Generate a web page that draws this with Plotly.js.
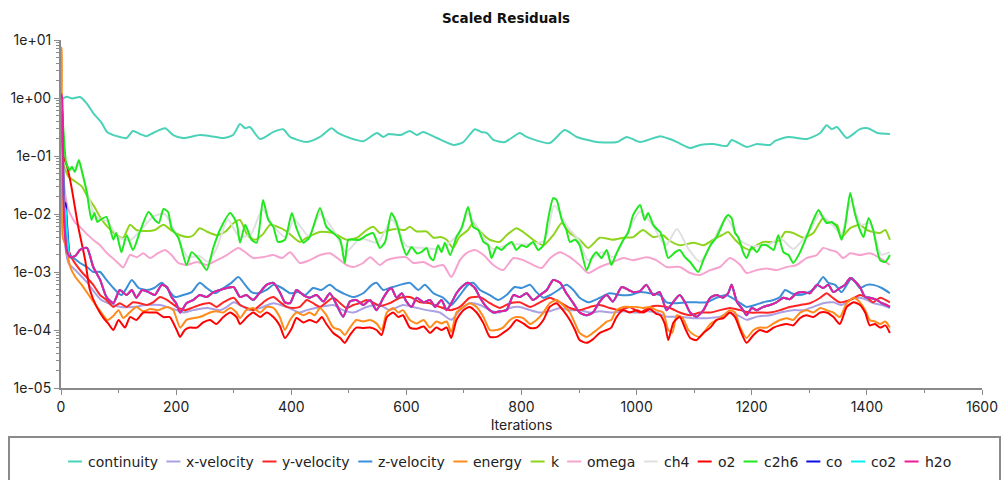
<!DOCTYPE html>
<html>
<head>
<meta charset="utf-8">
<script src="https://cdn.plot.ly/plotly-3.0.1.min.js"></script>
<style>html,body{margin:0;padding:0;background:#fff}#chart{width:1001px;height:480px}</style>
</head>
<body>
<div id="chart"></div>
<script>
// Each series: [iteration, scaled residual] pairs
const seriesNames = ["continuity","x-velocity","y-velocity","z-velocity","energy","k","omega","ch4","o2","c2h6","co","co2","h2o"];
const yTickVals = [1e-5,1e-4,1e-3,1e-2,1e-1,1,10];
const yTickText = ["1e-05","1e-04","1e-03","1e-02","1e-01","1e+00","1e+01"];

const continuity = [[0,0.92],[5,1.0],[10,1.05],[20,0.98],[33,1.04],[45,0.8],[56,0.55],[70,0.38],[80,0.26],[97,0.22],[114,0.204],[125,0.27],[137,0.24],[149,0.22],[160,0.249],[181,0.30],[195,0.23],[212,0.204],[241,0.23],[260,0.22],[282,0.204],[299,0.23],[311,0.356],[320,0.30],[328,0.316],[346,0.196],[369,0.26],[386,0.29],[398,0.213],[427,0.174],[450,0.213],[470,0.30],[481,0.25],[502,0.204],[525,0.18],[549,0.249],[560,0.213],[569,0.24],[590,0.23],[606,0.27],[618,0.23],[629,0.26],[653,0.204],[682,0.155],[699,0.174],[719,0.29],[730,0.26],[740,0.249],[751,0.189],[771,0.174],[797,0.249],[809,0.213],[849,0.167],[875,0.28],[896,0.213],[931,0.174],[966,0.174],[983,0.213],[1006,0.174],[1041,0.22],[1055,0.2],[1070,0.174],[1093,0.137],[1110,0.155],[1133,0.161],[1157,0.149],[1165,0.189],[1191,0.143],[1209,0.161],[1232,0.155],[1240,0.18],[1263,0.213],[1296,0.196],[1319,0.249],[1330,0.34],[1339,0.29],[1348,0.316],[1365,0.204],[1388,0.29],[1402,0.30],[1418,0.25],[1440,0.24]];

const xVelocity = [[0,1.0],[3,0.05],[7,0.0032],[13,0.00143],[25,0.00108],[46,0.00065],[58,0.00045],[70,0.00033],[91,0.00027],[104,0.00025],[125,0.00025],[148,0.00027],[172,0.00027],[190,0.00024],[201,0.00022],[212,0.0002],[230,0.00022],[253,0.00024],[276,0.00022],[288,0.00025],[300,0.0003],[311,0.00027],[328,0.00022],[346,0.00024],[369,0.00029],[392,0.00025],[415,0.0002],[427,0.00022],[450,0.00025],[473,0.00027],[490,0.00022],[508,0.0002],[531,0.00025],[554,0.00027],[571,0.00022],[594,0.00027],[612,0.00025],[635,0.00022],[658,0.0002],[678,0.00015],[693,0.00022],[710,0.00029],[728,0.00027],[745,0.00022],[762,0.0002],[780,0.00024],[797,0.00025],[815,0.00022],[832,0.0002],[849,0.00021],[867,0.00024],[884,0.00022],[901,0.00022],[919,0.0002],[936,0.00021],[959,0.0002],[977,0.00021],[1000,0.0002],[1017,0.00021],[1034,0.0002],[1052,0.00017],[1075,0.00017],[1099,0.00016],[1122,0.00016],[1145,0.00017],[1162,0.0002],[1180,0.00017],[1191,0.00015],[1209,0.00017],[1232,0.00018],[1249,0.0002],[1272,0.00022],[1290,0.00022],[1307,0.00025],[1324,0.00029],[1342,0.0003],[1356,0.00027],[1371,0.00033],[1388,0.00036],[1400,0.00033],[1411,0.00029],[1426,0.00027],[1440,0.00024]];

const yVelocity = [[0,1.0],[3,0.1],[6,0.01],[10,0.003],[18,0.0018],[27,0.0013],[36,0.001],[45,0.0008],[56,0.0006],[68,0.0004],[79,0.00033],[91,0.00025],[102,0.00029],[114,0.00025],[125,0.0003],[137,0.00029],[149,0.00027],[160,0.0003],[172,0.00037],[184,0.00033],[192,0.00029],[204,0.00024],[215,0.00022],[227,0.00024],[241,0.00027],[259,0.00029],[270,0.00025],[282,0.0003],[300,0.00036],[311,0.00027],[323,0.00024],[334,0.00022],[346,0.00027],[357,0.00033],[369,0.00037],[381,0.0003],[392,0.00025],[404,0.00024],[415,0.00025],[427,0.00033],[438,0.00029],[450,0.00025],[461,0.0003],[473,0.00036],[485,0.00029],[496,0.00024],[508,0.00027],[519,0.00029],[531,0.00033],[542,0.0003],[554,0.00026],[571,0.00029],[589,0.00036],[606,0.00037],[624,0.0003],[641,0.00029],[658,0.00025],[676,0.00022],[693,0.00025],[710,0.00036],[728,0.00037],[745,0.00029],[762,0.00024],[780,0.00029],[797,0.0003],[815,0.00025],[832,0.0003],[849,0.00036],[867,0.0003],[884,0.00024],[901,0.00022],[919,0.00025],[936,0.00027],[953,0.00024],[971,0.00022],[988,0.00025],[1006,0.0002],[1023,0.00025],[1041,0.00026],[1058,0.00024],[1075,0.0002],[1093,0.00018],[1110,0.0002],[1128,0.0002],[1145,0.00022],[1162,0.00024],[1180,0.00022],[1197,0.0002],[1214,0.0002],[1232,0.0002],[1249,0.00022],[1266,0.00025],[1284,0.00027],[1301,0.00029],[1319,0.00036],[1330,0.00043],[1339,0.00037],[1353,0.0003],[1371,0.00033],[1388,0.0004],[1400,0.00036],[1411,0.0003],[1423,0.00036],[1440,0.0003]];

const zVelocity = [[0,1.0],[3,0.05],[7,0.0053],[10,0.0021],[20,0.0018],[33,0.00143],[46,0.0012],[56,0.001],[68,0.001],[79,0.00073],[91,0.00053],[105,0.0004],[114,0.00053],[123,0.00073],[135,0.00053],[149,0.00049],[162,0.00053],[175,0.00065],[184,0.00053],[198,0.00037],[212,0.0004],[227,0.00045],[241,0.00065],[253,0.00053],[268,0.00043],[282,0.00053],[296,0.00065],[308,0.00082],[320,0.0006],[331,0.00045],[343,0.00043],[357,0.00049],[369,0.0006],[384,0.00053],[398,0.00043],[412,0.00045],[424,0.0004],[438,0.00053],[452,0.00049],[467,0.0006],[479,0.00049],[490,0.00043],[508,0.00037],[525,0.00043],[540,0.0006],[548,0.00065],[560,0.00049],[571,0.00053],[589,0.0006],[606,0.00065],[621,0.00049],[632,0.0006],[647,0.00043],[664,0.00036],[678,0.00027],[693,0.0004],[707,0.0006],[716,0.00065],[728,0.00049],[745,0.0004],[760,0.00033],[774,0.0004],[788,0.00055],[800,0.00053],[815,0.0006],[826,0.00045],[838,0.00036],[850,0.0004],[864,0.00049],[878,0.0006],[890,0.00049],[901,0.00036],[916,0.0003],[936,0.00036],[953,0.00043],[971,0.0004],[988,0.0004],[1006,0.00045],[1023,0.00043],[1041,0.0004],[1052,0.0003],[1070,0.00029],[1087,0.0003],[1104,0.0003],[1122,0.0003],[1139,0.00036],[1156,0.0004],[1165,0.00036],[1180,0.00029],[1191,0.00025],[1206,0.00027],[1220,0.0003],[1238,0.00033],[1249,0.00037],[1258,0.00049],[1269,0.00043],[1281,0.0004],[1295,0.00043],[1310,0.00053],[1324,0.00082],[1333,0.00065],[1345,0.0006],[1356,0.00045],[1374,0.00079],[1388,0.00053],[1400,0.0006],[1411,0.0006],[1426,0.00053],[1440,0.00043]];

const energy = [[0,7.6],[1,7.0],[3,0.004],[9,0.0027],[16,0.00122],[25,0.00082],[36,0.0006],[46,0.00043],[58,0.00029],[70,0.0002],[81,0.000149],[92,0.00018],[100,0.00022],[108,0.000161],[119,0.0002],[131,0.00025],[143,0.00021],[155,0.00023],[169,0.00022],[184,0.00025],[195,0.00022],[207,0.00011],[218,0.000149],[230,0.00016],[241,0.000167],[259,0.0002],[270,0.00021],[282,0.0002],[294,0.00024],[305,0.0002],[311,0.000161],[322,0.00022],[334,0.00024],[346,0.0002],[357,0.00025],[369,0.00024],[380,0.000167],[389,0.0001],[398,0.000149],[409,0.0002],[421,0.00018],[432,0.0002],[441,0.00018],[450,0.00024],[461,0.00018],[473,0.00011],[485,0.0001],[493,0.000082],[502,0.00011],[513,0.000149],[525,0.00014],[537,0.000149],[548,0.00013],[557,0.0001],[566,0.0002],[577,0.00024],[586,0.0002],[594,0.00022],[606,0.000149],[618,0.00013],[630,0.000149],[641,0.00011],[652,0.00014],[661,0.00013],[670,0.00014],[678,0.000092],[687,0.0002],[699,0.00025],[710,0.00029],[722,0.00025],[734,0.000167],[745,0.0001],[757,0.0001],[768,0.00011],[780,0.000149],[791,0.000167],[803,0.00016],[815,0.000127],[826,0.000149],[838,0.0002],[849,0.00029],[861,0.00033],[872,0.00027],[884,0.0002],[893,0.00013],[901,0.000089],[913,0.000076],[924,0.000089],[936,0.00011],[948,0.00014],[956,0.000149],[965,0.00022],[977,0.00025],[988,0.00025],[1000,0.00025],[1011,0.00024],[1023,0.00025],[1034,0.00022],[1046,0.0002],[1055,0.0001],[1062,0.00009],[1070,0.00018],[1080,0.00016],[1090,0.0001],[1100,0.000082],[1110,0.000076],[1120,0.0001],[1128,0.000127],[1140,0.00015],[1151,0.00018],[1162,0.00022],[1171,0.0002],[1180,0.00011],[1191,0.000073],[1203,0.0001],[1214,0.00011],[1226,0.00011],[1238,0.00013],[1249,0.000149],[1261,0.00016],[1272,0.000149],[1284,0.0002],[1296,0.00022],[1307,0.0002],[1319,0.00024],[1330,0.00022],[1342,0.0002],[1353,0.000167],[1365,0.00029],[1377,0.00036],[1388,0.0003],[1397,0.00022],[1405,0.000149],[1414,0.00014],[1423,0.000127],[1432,0.00014],[1440,0.00011]];

const kTurb = [[0,1.0],[3,0.3],[6,0.07],[13,0.044],[22,0.038],[36,0.03],[46,0.02],[58,0.0133],[69,0.0085],[81,0.006],[97,0.0043],[108,0.0039],[120,0.0065],[131,0.0053],[150,0.0051],[163,0.0053],[178,0.0065],[193,0.0051],[207,0.0043],[221,0.004],[230,0.0043],[241,0.0057],[253,0.005],[271,0.0043],[286,0.005],[300,0.007],[311,0.0079],[324,0.0043],[337,0.0036],[351,0.0045],[363,0.0065],[377,0.006],[392,0.005],[415,0.0033],[427,0.0039],[450,0.0049],[473,0.0047],[496,0.0036],[514,0.0039],[531,0.0053],[543,0.006],[554,0.0047],[571,0.0053],[583,0.0055],[597,0.0053],[606,0.006],[618,0.005],[635,0.005],[647,0.0039],[659,0.004],[670,0.0036],[681,0.0026],[692,0.004],[707,0.0053],[716,0.007],[728,0.005],[745,0.0036],[762,0.0033],[774,0.0043],[791,0.0057],[803,0.0049],[820,0.0036],[838,0.0029],[855,0.0043],[870,0.007],[884,0.0047],[901,0.0036],[916,0.0026],[936,0.0039],[959,0.0036],[977,0.0039],[994,0.004],[1011,0.0053],[1029,0.004],[1046,0.0043],[1055,0.0036],[1075,0.0029],[1099,0.0032],[1116,0.0029],[1133,0.0036],[1148,0.0043],[1159,0.0049],[1171,0.0036],[1185,0.0027],[1197,0.0024],[1209,0.0029],[1220,0.0033],[1238,0.0033],[1249,0.0036],[1258,0.0049],[1272,0.0047],[1290,0.0039],[1307,0.0047],[1324,0.0085],[1336,0.007],[1348,0.0065],[1356,0.004],[1371,0.0057],[1388,0.0065],[1400,0.0053],[1411,0.0049],[1423,0.0047],[1432,0.0053],[1440,0.0036]];

const omega = [[0,0.9],[4,0.05],[8,0.02],[13,0.0117],[25,0.007],[33,0.006],[45,0.0045],[59,0.0034],[68,0.0029],[80,0.0021],[91,0.0017],[100,0.0014],[108,0.0012],[120,0.00196],[132,0.0018],[143,0.0021],[155,0.00174],[168,0.0021],[181,0.0024],[192,0.00196],[204,0.00143],[218,0.00132],[236,0.00149],[253,0.00132],[271,0.0016],[288,0.00196],[308,0.0026],[320,0.0022],[334,0.00174],[351,0.0018],[369,0.00196],[384,0.00174],[398,0.0022],[415,0.00143],[432,0.0016],[450,0.00196],[467,0.0021],[485,0.0016],[496,0.00132],[508,0.00122],[525,0.00143],[537,0.0018],[554,0.00132],[566,0.0016],[589,0.0018],[600,0.0018],[612,0.00143],[630,0.00149],[647,0.00122],[664,0.00132],[678,0.00082],[693,0.0016],[704,0.0021],[719,0.0024],[734,0.00196],[751,0.00132],[768,0.00108],[786,0.00174],[803,0.0016],[820,0.00132],[835,0.00117],[850,0.00174],[867,0.0022],[884,0.0018],[901,0.00132],[916,0.00096],[936,0.00122],[959,0.00149],[977,0.00174],[994,0.0016],[1017,0.0018],[1034,0.0016],[1052,0.00122],[1075,0.00122],[1093,0.00096],[1110,0.00089],[1128,0.00108],[1145,0.00122],[1162,0.00174],[1180,0.00132],[1191,0.00096],[1209,0.00108],[1226,0.00115],[1243,0.00108],[1261,0.00122],[1278,0.00132],[1295,0.00174],[1313,0.00196],[1324,0.0026],[1336,0.0024],[1348,0.0022],[1359,0.00174],[1371,0.0021],[1388,0.00196],[1405,0.0021],[1423,0.00174],[1440,0.00132]];

const ch4 = [[0,1.0],[4,0.15],[10,0.06],[20,0.06],[31,0.07],[45,0.025],[60,0.009],[80,0.0075],[100,0.004],[120,0.0035],[140,0.0055],[160,0.009],[180,0.01],[200,0.0045],[220,0.0018],[240,0.0019],[255,0.0015],[270,0.0025],[290,0.008],[310,0.004],[330,0.0045],[350,0.012],[370,0.006],[390,0.004],[405,0.008],[430,0.0042],[450,0.01],[475,0.005],[495,0.0022],[520,0.0038],[550,0.0032],[575,0.008],[600,0.0028],[630,0.0026],[660,0.0025],[690,0.0045],[707,0.01],[730,0.0045],[750,0.0025],[780,0.003],[810,0.003],[840,0.0035],[857,0.014],[880,0.006],[900,0.0035],[915,0.0016],[940,0.0022],[960,0.0018],[985,0.005],[1006,0.011],[1030,0.006],[1050,0.0028],[1070,0.0055],[1090,0.0025],[1110,0.0015],[1130,0.003],[1156,0.0085],[1180,0.0035],[1200,0.0028],[1230,0.003],[1250,0.0038],[1272,0.0025],[1300,0.005],[1318,0.01],[1340,0.0065],[1356,0.0045],[1372,0.017],[1390,0.0065],[1405,0.007],[1425,0.002],[1440,0.0022]];

const o2 = [[0,1.0],[2,0.5],[4,0.1],[10,0.07],[18,0.03],[30,0.006],[42,0.0016],[50,0.0005],[62,0.00025],[74,0.00016],[82,0.00013],[91,0.0001],[100,0.000149],[111,0.00011],[120,0.000167],[131,0.000149],[143,0.0002],[155,0.0002],[166,0.0002],[178,0.000167],[189,0.000167],[201,0.0001],[207,0.000076],[215,0.0001],[224,0.00011],[236,0.00011],[247,0.000135],[259,0.000149],[270,0.000127],[282,0.000167],[294,0.0002],[305,0.000167],[311,0.000127],[323,0.000167],[334,0.0002],[346,0.000167],[357,0.0002],[369,0.000167],[380,0.00012],[389,0.000073],[401,0.000108],[409,0.000161],[421,0.000135],[432,0.000149],[444,0.000135],[453,0.000167],[461,0.000127],[473,0.000089],[485,0.000073],[493,0.00006],[502,0.000082],[513,0.00011],[525,0.000108],[537,0.00011],[548,0.0001],[557,0.000082],[566,0.000167],[577,0.0002],[586,0.000167],[594,0.00018],[606,0.00011],[618,0.000105],[630,0.000115],[641,0.000089],[652,0.00011],[661,0.0001],[670,0.00011],[678,0.000073],[687,0.000149],[699,0.00022],[710,0.00025],[722,0.0002],[734,0.00013],[745,0.000076],[757,0.000076],[768,0.000089],[780,0.00011],[791,0.000149],[803,0.00013],[815,0.000108],[826,0.00011],[838,0.000149],[849,0.00025],[861,0.00029],[872,0.00022],[884,0.000149],[893,0.0001],[901,0.000067],[913,0.00006],[924,0.000069],[936,0.000089],[948,0.0001],[956,0.00011],[965,0.000167],[977,0.00022],[988,0.0002],[1000,0.00022],[1011,0.0002],[1023,0.00023],[1034,0.00019],[1041,0.00018],[1049,0.000127],[1055,0.000067],[1064,0.000135],[1075,0.000167],[1084,0.000108],[1093,0.000073],[1104,0.000067],[1116,0.000089],[1128,0.00011],[1139,0.000149],[1151,0.000161],[1162,0.0002],[1171,0.000167],[1180,0.0001],[1191,0.00006],[1203,0.000082],[1214,0.0001],[1226,0.000092],[1238,0.00011],[1249,0.00012],[1261,0.000127],[1272,0.00012],[1284,0.000161],[1295,0.00018],[1307,0.000167],[1319,0.0002],[1330,0.0002],[1342,0.000167],[1353,0.000127],[1365,0.00025],[1377,0.0003],[1388,0.00027],[1397,0.0002],[1405,0.00012],[1414,0.000127],[1423,0.00011],[1432,0.00012],[1440,0.000089]];

const c2h6 = [[0,1.0],[4,0.3],[9,0.076],[15,0.057],[19,0.065],[24,0.053],[31,0.085],[38,0.047],[45,0.023],[53,0.0079],[58,0.0104],[63,0.0073],[68,0.0079],[79,0.0089],[91,0.0036],[96,0.0047],[105,0.0022],[114,0.0043],[125,0.0024],[137,0.0049],[152,0.0108],[163,0.0079],[170,0.007],[178,0.0122],[186,0.0108],[192,0.0057],[204,0.0039],[218,0.00132],[227,0.0022],[241,0.0016],[253,0.00108],[265,0.0027],[276,0.0053],[294,0.0104],[305,0.007],[311,0.0032],[320,0.0065],[331,0.0036],[340,0.0032],[351,0.0174],[360,0.0079],[369,0.006],[377,0.0033],[389,0.0036],[401,0.0104],[409,0.0057],[421,0.0032],[432,0.004],[450,0.0127],[461,0.006],[473,0.0047],[485,0.0036],[493,0.00143],[499,0.0036],[508,0.0036],[519,0.0036],[531,0.0043],[542,0.0047],[554,0.0026],[563,0.0033],[574,0.0104],[583,0.007],[592,0.0032],[600,0.00196],[609,0.0027],[618,0.0021],[626,0.0022],[635,0.0026],[641,0.0018],[647,0.0016],[655,0.0029],[661,0.0022],[667,0.0032],[676,0.00196],[687,0.004],[696,0.0057],[707,0.0132],[716,0.006],[725,0.0053],[734,0.0033],[742,0.0029],[748,0.00174],[757,0.0027],[765,0.0024],[774,0.0029],[783,0.0033],[791,0.0024],[800,0.0029],[809,0.0027],[820,0.0033],[829,0.0024],[838,0.0029],[846,0.0079],[855,0.0188],[861,0.0174],[870,0.0079],[878,0.0053],[884,0.0033],[893,0.0036],[901,0.0029],[913,0.00108],[922,0.00174],[930,0.0022],[939,0.00174],[948,0.0024],[956,0.00132],[965,0.0021],[977,0.0036],[985,0.0047],[994,0.0096],[1006,0.0143],[1014,0.0079],[1020,0.0104],[1029,0.0065],[1037,0.0053],[1041,0.0049],[1047,0.0033],[1055,0.00174],[1067,0.0022],[1075,0.0024],[1084,0.0018],[1093,0.00149],[1107,0.001],[1116,0.0016],[1128,0.0029],[1139,0.004],[1154,0.0085],[1159,0.0096],[1165,0.0085],[1171,0.0047],[1177,0.0039],[1185,0.0022],[1191,0.00174],[1200,0.0027],[1209,0.0022],[1217,0.0029],[1226,0.0029],[1238,0.0024],[1246,0.0043],[1255,0.0022],[1264,0.00196],[1272,0.00143],[1284,0.0022],[1295,0.004],[1307,0.0079],[1316,0.0117],[1324,0.0085],[1330,0.007],[1339,0.0073],[1348,0.006],[1356,0.0036],[1362,0.006],[1371,0.023],[1379,0.0104],[1388,0.0053],[1394,0.004],[1403,0.0085],[1411,0.0053],[1423,0.0016],[1432,0.00149],[1440,0.00196]];

const h2o = [[0,1.2],[2,1.0],[4,0.03],[6,0.006],[10,0.0024],[16,0.0018],[25,0.0019],[33,0.0024],[45,0.0026],[56,0.00122],[68,0.00073],[79,0.00037],[91,0.00029],[102,0.00049],[114,0.0004],[123,0.00049],[131,0.00036],[141,0.00049],[152,0.00045],[163,0.0004],[175,0.0006],[184,0.00055],[192,0.00037],[200,0.00029],[207,0.0002],[218,0.00029],[230,0.00033],[241,0.0004],[253,0.00037],[265,0.00045],[276,0.00049],[288,0.00053],[300,0.00055],[311,0.00037],[322,0.0004],[334,0.00033],[346,0.00045],[357,0.0006],[369,0.00065],[381,0.00043],[389,0.0003],[398,0.00029],[409,0.00049],[421,0.0004],[432,0.00036],[444,0.0004],[456,0.00031],[467,0.00043],[479,0.00027],[490,0.00017],[502,0.00031],[513,0.00033],[525,0.00027],[537,0.00033],[548,0.00022],[560,0.00036],[569,0.00049],[574,0.00053],[583,0.00036],[592,0.00043],[600,0.00031],[609,0.00025],[618,0.00036],[630,0.0003],[641,0.00033],[650,0.00025],[661,0.00033],[670,0.00022],[678,0.00029],[687,0.00043],[696,0.00055],[707,0.00065],[719,0.00053],[728,0.00036],[739,0.00025],[751,0.0002],[762,0.00021],[774,0.00022],[786,0.0004],[797,0.00037],[809,0.00043],[820,0.00033],[832,0.0004],[844,0.00049],[855,0.00073],[867,0.00065],[878,0.00043],[890,0.00029],[901,0.0002],[913,0.00018],[924,0.0002],[936,0.00031],[948,0.0004],[959,0.00031],[974,0.00055],[986,0.00049],[994,0.00045],[1006,0.00047],[1017,0.0006],[1029,0.0004],[1040,0.00045],[1052,0.00022],[1063,0.0003],[1075,0.0004],[1084,0.0003],[1093,0.0002],[1104,0.00017],[1116,0.00022],[1128,0.00036],[1139,0.0004],[1150,0.00036],[1159,0.00043],[1165,0.0006],[1174,0.00031],[1185,0.00022],[1191,0.00018],[1200,0.00024],[1209,0.00022],[1220,0.00025],[1232,0.00027],[1243,0.0003],[1255,0.00036],[1266,0.00034],[1278,0.00043],[1290,0.00045],[1301,0.00043],[1313,0.0006],[1324,0.00053],[1333,0.0006],[1342,0.00045],[1353,0.00053],[1362,0.0006],[1371,0.00079],[1379,0.00069],[1388,0.00055],[1397,0.00037],[1405,0.00036],[1417,0.00033],[1426,0.00029],[1434,0.00027],[1440,0.00025]];

// co and co2: visible only at the start, afterwards hidden under h2o
const coStart = [[0,1.0],[2,0.6],[4,0.05],[6,0.016],[8,0.015],[10,0.008],[13,0.003]];
const co2Start = [[0,1.0],[2,0.6],[4,0.04],[6,0.013],[8,0.012],[10,0.006],[13,0.0025]];

const colors = ["#4ad2b8","#aaa0e4","#ff2424","#3b8fd8","#ff8c1a","#8fd41c","#f6a4cf","#e0e0e0","#ff0000","#1fe81f","#0b0be6","#00f0f0","#ee1a9a"];

function tail(pairs, after){ return pairs.filter(p => p[0] > after); }
const coFull = coStart.concat(tail(h2o, 13));
const co2Full = co2Start.concat(tail(h2o, 13));
const seriesData = [continuity,xVelocity,yVelocity,zVelocity,energy,kTurb,omega,ch4,o2,c2h6,coFull,co2Full,h2o];

const traces = seriesData.map((pts,i) => ({
  type: "scatter", mode: "lines", name: seriesNames[i], showlegend: false,
  x: pts.map(p => p[0]), y: pts.map(p => p[1]),
  line: {color: colors[i], width: 2, shape: "spline", smoothing: 0.6}
}));

// ---- page geometry ----
const W = 1001, H = 480, M = {l: 61, r: 19, t: 40, b: 92};
const plotW = W - M.l - M.r, plotH = H - M.t - M.b;
const pxToPaperX = px => (px - M.l) / plotW;
const pxToPaperY = py => (H - M.b - py) / plotH;

// ---- legend row (one line, centred), built from seriesNames / colors ----
const legendFontSize = 14, legendFamily = "DejaVu Sans";
const ctx = document.createElement("canvas").getContext("2d");
ctx.font = legendFontSize + "px '" + legendFamily + "'";
const textW = seriesNames.map(n => ctx.measureText(n).width);
const SAMPLE = 14, GAP_TEXT = 6, GAP_ITEM = 8.4, LEGEND_CX = 509.5, LEGEND_CY = 461.5;
const totalW = textW.reduce((a, w) => a + SAMPLE + GAP_TEXT + w, 0) + GAP_ITEM * (seriesNames.length - 1);
let cursor = LEGEND_CX - totalW / 2;
const legendShapes = [], legendAnns = [];
seriesNames.forEach((name, i) => {
  legendShapes.push({type: "line", xref: "paper", yref: "paper",
    x0: pxToPaperX(cursor), x1: pxToPaperX(cursor + SAMPLE),
    y0: pxToPaperY(LEGEND_CY), y1: pxToPaperY(LEGEND_CY),
    line: {color: colors[i], width: 2}});
  legendAnns.push({text: name, xref: "paper", yref: "paper", showarrow: false,
    x: pxToPaperX(cursor + SAMPLE + GAP_TEXT - 2), xanchor: "left",
    y: pxToPaperY(LEGEND_CY), yanchor: "middle",
    font: {family: "'" + legendFamily + "', sans-serif", size: legendFontSize, color: "#222"}});
  cursor += SAMPLE + GAP_TEXT + textW[i] + GAP_ITEM;
});

const tickFont = {family: "Inter, 'DejaVu Sans', sans-serif", size: 14, color: "#222"};
const layout = {
  width: W, height: H, margin: M,
  paper_bgcolor: "#fff", plot_bgcolor: "#fff", showlegend: false,
  title: {text: "<b>Scaled Residuals</b>", font: {family: "'DejaVu Sans', sans-serif", size: 13.5, color: "#111"},
          x: 0.5055, xanchor: "center", y: 0.962, yanchor: "middle"},
  xaxis: {range: [0, 1600], dtick: 200, tick0: 0, showgrid: false, zeroline: false,
          showline: true, linecolor: "#8a8a8a", linewidth: 2,
          ticks: "outside", ticklen: 5, tickcolor: "#8a8a8a", tickwidth: 1,
          minor: {ticks: "outside", dtick: 100, ticklen: 3, tickcolor: "#8a8a8a", showgrid: false},
          tickfont: tickFont, automargin: false,
          title: {text: "Iterations", font: tickFont, standoff: 6}},
  yaxis: {type: "log", range: [-5, 1], tickmode: "array", tickvals: yTickVals, ticktext: yTickText,
          showgrid: false, zeroline: false, showline: true, linecolor: "#8a8a8a", linewidth: 2,
          ticks: "outside", ticklen: 5, tickcolor: "#8a8a8a", tickwidth: 1,
          minor: {ticks: "outside", dtick: "D1", ticklen: 3, tickcolor: "#8a8a8a", showgrid: false},
          tickfont: tickFont, automargin: false},
  shapes: [{type: "rect", xref: "paper", yref: "paper",
            x0: pxToPaperX(9), x1: pxToPaperX(1000), y0: pxToPaperY(437), y1: pxToPaperY(500),
            line: {color: "#8a8a8a", width: 2}, fillcolor: "rgba(0,0,0,0)", layer: "below"}].concat(legendShapes),
  annotations: legendAnns
};

Plotly.newPlot("chart", traces, layout, {displayModeBar: false, staticPlot: true});
</script>
</body>
</html>
